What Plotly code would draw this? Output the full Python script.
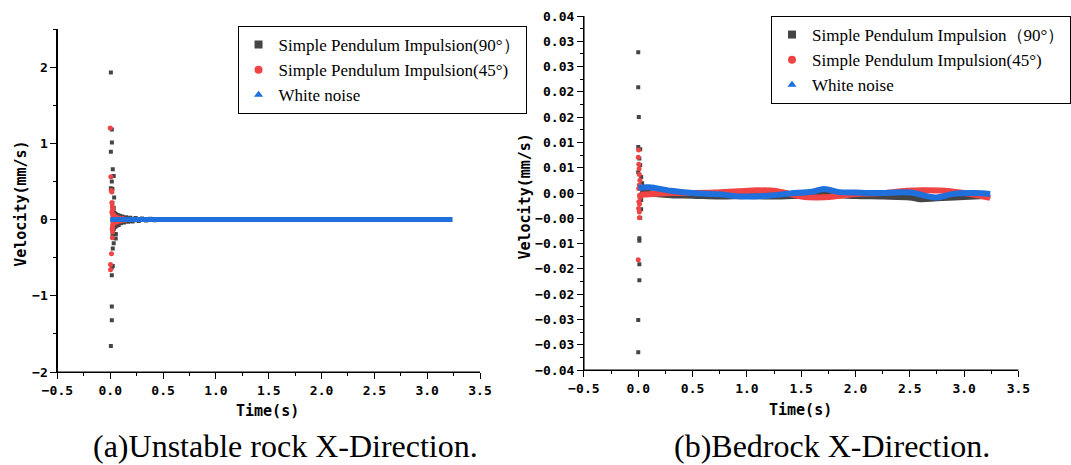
import plotly.graph_objects as go
import numpy as np

W, H = 1071, 465

# ---------------- Panel (a): Unstable rock X-direction ----------------
a_blk_t = [0.006, 0.015, 0.016, 0.006, 0.024, 0.033, 0.015, 0.006, 0.021, 0.037, 0.033,
           0.053, 0.052, 0.033, 0.024, 0.024, 0.015, 0.015, 0.006, 0.015,
           0.020, 0.022, 0.025, 0.028, 0.030, 0.033, 0.036, 0.040, 0.045, 0.050, 0.055,
           0.060, 0.070, 0.080, 0.090, 0.100, 0.115, 0.130, 0.150, 0.170, 0.190, 0.210,
           0.240, 0.270, 0.300, 0.340, 0.380, 0.420, 0.470, 0.520, 0.560]
a_blk_v = [1.93, 1.18, 1.01, 0.89, 0.66, 0.57, 0.50, 0.41, 0.40, 0.29, 0.15,
           -0.19, -0.25, -0.31, -0.38, -0.61, -0.63, -0.73, -1.66, -1.14,
           0.22, -0.20, 0.14, -0.15, 0.10, -0.12, 0.09, -0.10, 0.08, -0.09, 0.07,
           -0.08, 0.06, -0.07, 0.05, -0.05, 0.04, -0.04, 0.03, -0.03, 0.025, -0.025,
           0.02, -0.02, 0.015, -0.012, 0.01, -0.008, 0.006, -0.005, 0.003]
a_blk_extra_t = [0.015]
a_blk_extra_v = [-1.32]

a_red_t = [0.000, 0.006, 0.010, 0.015, 0.015, 0.020, 0.025, 0.022, 0.022, 0.020, 0.012,
           0.003, 0.003, 0.015, 0.018, 0.020, 0.025, 0.030, 0.035, 0.040, 0.050, 0.060,
           0.070, 0.085, 0.100, 0.120, 0.140]
a_red_v = [1.20, 0.56, 0.38, 0.36, 0.22, 0.17, 0.14, -0.10, -0.16, -0.24, -0.45,
           -0.59, -0.66, 0.10, -0.12, 0.08, -0.07, 0.06, -0.05, 0.05, -0.04, 0.03,
           -0.03, 0.02, -0.02, 0.015, -0.01]

# dense decaying envelopes
a_blk_env_t = [0.005, 0.03, 0.06, 0.10, 0.20, 0.35, 0.57, 0.57, 0.35, 0.20, 0.10, 0.06, 0.03, 0.005]
a_blk_env_v = [0.15, 0.10, 0.07, 0.05, 0.03, 0.012, 0.004, -0.004, -0.012, -0.03, -0.05, -0.07, -0.10, -0.15]
a_red_env_t = [0.005, 0.03, 0.08, 0.15, 0.20, 0.20, 0.15, 0.08, 0.03, 0.005]
a_red_env_v = [0.07, 0.045, 0.02, 0.008, 0.002, -0.002, -0.008, -0.02, -0.045, -0.07]

a_blue_t = [0.0, 0.5, 1.0, 1.5, 2.0, 2.5, 3.0, 3.24]
a_blue_v = [0.0, 0.0, 0.0, 0.0, 0.0, 0.0, 0.0, 0.0]

# ---------------- Panel (b): Bedrock X-direction ----------------
b_blk_t = [0.000, 0.000, 0.005, 0.000, 0.018, 0.010, 0.018, 0.000, 0.027, 0.036, 0.027,
           0.027, 0.018, 0.010, 0.010, 0.010, 0.010, 0.000, 0.000, 0.020, 0.025]
b_blk_v = [0.0318, 0.0239, 0.0172, 0.0104, 0.0099, 0.0078, 0.0063, 0.0047, 0.0036, 0.0022,
           -0.0016, -0.0037, -0.0056, -0.0102, -0.0108, -0.0161, -0.0197, -0.0287, -0.0360,
           0.0012, -0.0008]
b_red_t = [0.003, 0.000, 0.010, 0.015, 0.010, 0.012, 0.003, 0.010, 0.010, 0.000,
           0.005, 0.008, 0.006, 0.012, 0.015, 0.020, 0.004]
b_red_v = [0.0097, 0.0081, 0.0042, 0.0029, 0.0018, -0.0005, -0.0035, -0.0043, -0.0056, -0.0151,
           0.0065, 0.0055, -0.0020, -0.0025, -0.0010, 0.0015, 0.0010]

b_blk_band_t = [0.02, 0.10, 0.30, 0.50, 0.75, 1.00, 1.25, 1.50, 1.75, 2.00, 2.25, 2.50, 2.60, 2.75, 3.00, 3.24]
b_blk_band_v = [0.0006, 0.0000, -0.0005, -0.0006, -0.0008, -0.0007, -0.0008, -0.0006, -0.0004,
                -0.0007, -0.0008, -0.0010, -0.0014, -0.0012, -0.0009, -0.0006]
b_red_band_t = [0.02, 0.10, 0.30, 0.50, 0.70, 0.92, 1.10, 1.28, 1.50, 1.65, 1.80, 2.00, 2.25,
                2.47, 2.65, 2.87, 3.05, 3.24]
b_red_band_v = [-0.0004, -0.0003, 0.0000, 0.0000, 0.0001, 0.0004, 0.0006, 0.0004, -0.0008,
                -0.0010, -0.0008, -0.0002, 0.0000, 0.0005, 0.0006, 0.0004, -0.0002, -0.0011]
b_blue_t = [0.00, 0.10, 0.30, 0.50, 0.75, 0.95, 1.20, 1.40, 1.60, 1.71, 1.85, 2.00, 2.20, 2.50,
            2.74, 2.90, 3.10, 3.24]
b_blue_v = [0.0012, 0.0013, 0.0005, 0.0000, -0.0003, -0.0008, -0.0006, -0.0001, 0.0003, 0.0009,
            0.0002, 0.0001, 0.0000, 0.0001, -0.0010, -0.0002, 0.0000, -0.0002]

b_ticktext = ["0.04", "0.03", "0.03", "0.02", "0.02", "0.01", "0.01", "0.00",
              "\u22120.00", "\u22120.01", "\u22120.02", "\u22120.02", "\u22120.03", "\u22120.03", "\u22120.04"]
b_tickvals = list(np.linspace(0.04, -0.04, len(b_ticktext)))
b_minor = [(b_tickvals[i] + b_tickvals[i + 1]) / 2 for i in range(len(b_tickvals) - 1)]

legend_names_a = ["Simple Pendulum Impulsion(90°\uff09", "Simple Pendulum Impulsion(45°)", "White noise"]
legend_names_b = ["Simple Pendulum Impulsion\uff0890°\uff09", "Simple Pendulum Impulsion(45°)", "White noise"]

BLK = "#454545"
RED = "#f04343"
BLU = "#1f6fdc"

fig = go.Figure()

# ---- panel a traces
fig.add_trace(go.Scatter(x=a_blk_env_t, y=a_blk_env_v, fill="toself", mode="lines",
                         line=dict(color=BLK, width=1), fillcolor=BLK, showlegend=False,
                         xaxis="x", yaxis="y", hoverinfo="skip"))
fig.add_trace(go.Scatter(x=a_blk_t + a_blk_extra_t, y=a_blk_v + a_blk_extra_v, mode="markers",
                         marker=dict(symbol="square", size=4, color=BLK), showlegend=False,
                         xaxis="x", yaxis="y"))
fig.add_trace(go.Scatter(x=a_red_env_t, y=a_red_env_v, fill="toself", mode="lines",
                         line=dict(color=RED, width=1), fillcolor=RED, showlegend=False,
                         xaxis="x", yaxis="y", hoverinfo="skip"))
fig.add_trace(go.Scatter(x=a_red_t, y=a_red_v, mode="markers",
                         marker=dict(symbol="circle", size=5, color=RED), showlegend=False,
                         xaxis="x", yaxis="y"))
fig.add_trace(go.Scatter(x=a_blue_t, y=a_blue_v, mode="lines",
                         line=dict(color=BLU, width=5), showlegend=False,
                         xaxis="x", yaxis="y"))

# ---- panel b traces
fig.add_trace(go.Scatter(x=b_blk_band_t, y=b_blk_band_v, mode="lines",
                         line=dict(color=BLK, width=6, shape="spline"), showlegend=False,
                         xaxis="x2", yaxis="y2"))
fig.add_trace(go.Scatter(x=b_blk_t, y=b_blk_v, mode="markers",
                         marker=dict(symbol="square", size=4, color=BLK), showlegend=False,
                         xaxis="x2", yaxis="y2"))
fig.add_trace(go.Scatter(x=b_red_band_t, y=b_red_band_v, mode="lines",
                         line=dict(color=RED, width=6, shape="spline"), showlegend=False,
                         xaxis="x2", yaxis="y2"))
fig.add_trace(go.Scatter(x=b_red_t, y=b_red_v, mode="markers",
                         marker=dict(symbol="circle", size=5, color=RED), showlegend=False,
                         xaxis="x2", yaxis="y2"))
fig.add_trace(go.Scatter(x=b_blue_t, y=b_blue_v, mode="lines",
                         line=dict(color=BLU, width=6, shape="spline"), showlegend=False,
                         xaxis="x2", yaxis="y2"))

# ---- legend-only entries
syms = [("square", BLK), ("circle", RED), ("triangle-up", BLU)]
for name, (s, c) in zip(legend_names_a, syms):
    fig.add_trace(go.Scatter(x=[None], y=[None], mode="markers", name=name,
                             marker=dict(symbol=s, size=8, color=c), legend="legend",
                             xaxis="x", yaxis="y"))
for name, (s, c) in zip(legend_names_b, syms):
    fig.add_trace(go.Scatter(x=[None], y=[None], mode="markers", name=name,
                             marker=dict(symbol=s, size=8, color=c), legend="legend2",
                             xaxis="x2", yaxis="y2"))

TICKFONT = dict(family="DejaVu Sans Mono", size=13, color="black", weight="bold")
AXLINE = dict(showline=True, linecolor="black", linewidth=1, showgrid=False, zeroline=False,
              automargin=False, ticks="outside", ticklen=6, tickwidth=1, tickcolor="black",
              tickfont=TICKFONT)
common_x = dict(range=[-0.5, 3.5], dtick=0.5, tick0=0, tickformat=".1f",
                minor=dict(dtick=0.25, ticks="outside", ticklen=3, tickcolor="black"), **AXLINE)

XA = (58, 485)
YA = (29, 372)
XB = (590, 1029)
YB = (16, 370)

fig.update_layout(
    width=W, height=H, margin=dict(l=0, r=0, t=0, b=0),
    paper_bgcolor="white", plot_bgcolor="white",
    xaxis=dict(domain=[XA[0] / W, XA[1] / W], anchor="y", **common_x),
    yaxis=dict(domain=[1 - YA[1] / H, 1 - YA[0] / H], anchor="x", range=[-2, 2.5], dtick=1, tick0=0,
               minor=dict(dtick=0.5, ticks="outside", ticklen=3, tickcolor="black"), **AXLINE),
    xaxis2=dict(domain=[XB[0] / W, XB[1] / W], anchor="y2", **common_x),
    yaxis2=dict(domain=[1 - YB[1] / H, 1 - YB[0] / H], anchor="x2", range=[-0.04, 0.04],
                tickvals=b_tickvals, ticktext=b_ticktext,
                minor=dict(tickvals=b_minor, ticks="outside", ticklen=3, tickcolor="black"), **AXLINE),
    legend=dict(x=240 / W, y=1 - 26 / H, xanchor="left", yanchor="top",
                bordercolor="black", borderwidth=1, bgcolor="white",
                font=dict(family="Liberation Serif", size=17, color="black"),
                tracegroupgap=0, itemwidth=30),
    legend2=dict(x=779 / W, y=1 - 16 / H, xanchor="left", yanchor="top",
                 bordercolor="black", borderwidth=1, bgcolor="white",
                 font=dict(family="Liberation Serif", size=17, color="black"),
                 tracegroupgap=0, itemwidth=30),
    showlegend=True,
)

# spines drawn in paper coordinates (not clipped by the plot area)
for (x0, x1), (y0, y1) in [(XA, YA), (XB, YB)]:
    fig.add_shape(type="line", xref="paper", yref="paper",
                  x0=x0 / W, x1=x0 / W, y0=1 - y0 / H, y1=1 - y1 / H,
                  line=dict(color="black", width=1.2), layer="above")
    fig.add_shape(type="line", xref="paper", yref="paper",
                  x0=x0 / W, x1=x1 / W, y0=1 - y1 / H, y1=1 - y1 / H,
                  line=dict(color="black", width=1.2), layer="above")

TITLEFONT = dict(family="DejaVu Sans Mono", size=15, color="black", weight="bold")
ann = [
    dict(text="Velocity(mm/s)", x=21 / W, y=1 - 204 / H, textangle=-90, font=TITLEFONT),
    dict(text="Velocity(mm/s)", x=530 / W, y=1 - 197 / H, textangle=-90, font=TITLEFONT),
    dict(text="Time(s)", x=270 / W, y=1 - 411 / H, font=TITLEFONT),
    dict(text="Time(s)", x=809 / W, y=1 - 410 / H, font=TITLEFONT),
    dict(text="(a)Unstable rock X-Direction.", x=288 / W, y=1 - 446 / H,
         font=dict(family="Liberation Serif", size=32, color="black")),
    dict(text="(b)Bedrock X-Direction.", x=841 / W, y=1 - 446 / H,
         font=dict(family="Liberation Serif", size=32, color="black")),
]
for a in ann:
    a.update(xref="paper", yref="paper", showarrow=False, xanchor="center", yanchor="middle")
fig.update_layout(annotations=ann)

fig.write_html("out.html")
